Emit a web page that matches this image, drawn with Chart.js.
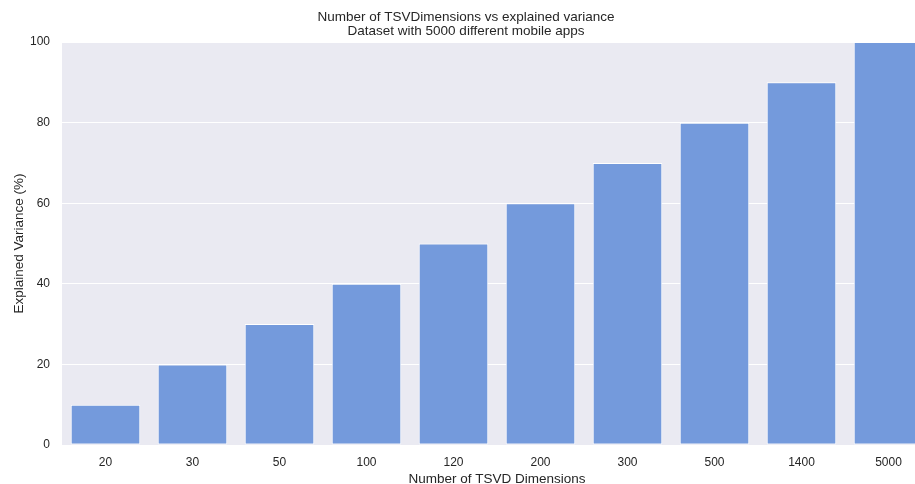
<!DOCTYPE html>
<html>
<head>
<meta charset="utf-8">
<script src="https://cdn.jsdelivr.net/npm/chart.js@4/dist/chart.umd.min.js"></script>
<style>
html,body{margin:0;padding:0;background:#fff;overflow:hidden;width:915px;height:484px;}
canvas{display:block;}
</style>
</head>
<body>
<canvas id="c" width="932" height="484"></canvas>
<script>
const categories = ["20","30","50","100","120","200","300","500","1400","5000"];
const explainedVariance = [10,20,30,40,50,60,70,80,90,100];
const titleLines = ["Number of TSVDimensions vs explained variance","Dataset with 5000 different mobile apps"];
const xTitle = "Number of TSVD Dimensions";
const yTitle = "Explained Variance (%)";

const FONT = "'Liberation Sans', Arial, sans-serif";
const TXT = "#262626";

const bgPlugin = {
  id: 'bg',
  beforeDraw(chart){
    const {ctx, chartArea:a} = chart;
    ctx.save();
    ctx.fillStyle = '#EAEAF2';
    ctx.fillRect(a.left, a.top, a.right - a.left, a.bottom - a.top);
    ctx.restore();
  }
};

new Chart(document.getElementById('c'), {
  type: 'bar',
  data: {
    labels: categories,
    datasets: [{
      data: explainedVariance,
      backgroundColor: '#749ADC',
      borderColor: '#ffffff',
      borderWidth: 1,
      borderSkipped: false,
      categoryPercentage: 0.8,
      barPercentage: 1.0
    }]
  },
  options: {
    responsive: false,
    animation: false,
    layout: { padding: { left: 0, right: 0, top: 0, bottom: 0 } },
    plugins: {
      legend: { display: false },
      tooltip: { enabled: false },
      title: {
        display: true,
        text: titleLines,
        color: TXT,
        font: { family: FONT, size: 13.5, weight: 'normal', lineHeight: 1.04 },
        padding: { top: 10, bottom: 4 }
      }
    },
    scales: {
      x: {
        grid: { display: false, drawTicks: false },
        border: { display: false },
        ticks: { color: TXT, font: { family: FONT, size: 12 }, padding: 10 },
        title: { display: true, text: xTitle, color: TXT, font: { family: FONT, size: 13.5, lineHeight: 0.65 }, padding: { top: 0, bottom: 0 } },
        afterFit(s){ s.height = 39; }
      },
      y: {
        min: 0, max: 100,
        grid: { color: '#ffffff', lineWidth: 1, drawTicks: false },
        border: { display: false },
        ticks: { stepSize: 20, color: TXT, font: { family: FONT, size: 12 }, padding: 12 },
        title: { display: true, text: yTitle, color: TXT, font: { family: FONT, size: 13.5, lineHeight: 1.2 }, padding: { top: 11, bottom: 0 } },
        afterFit(s){ s.width = 62; }
      }
    }
  },
  plugins: [bgPlugin]
});
</script>
</body>
</html>
